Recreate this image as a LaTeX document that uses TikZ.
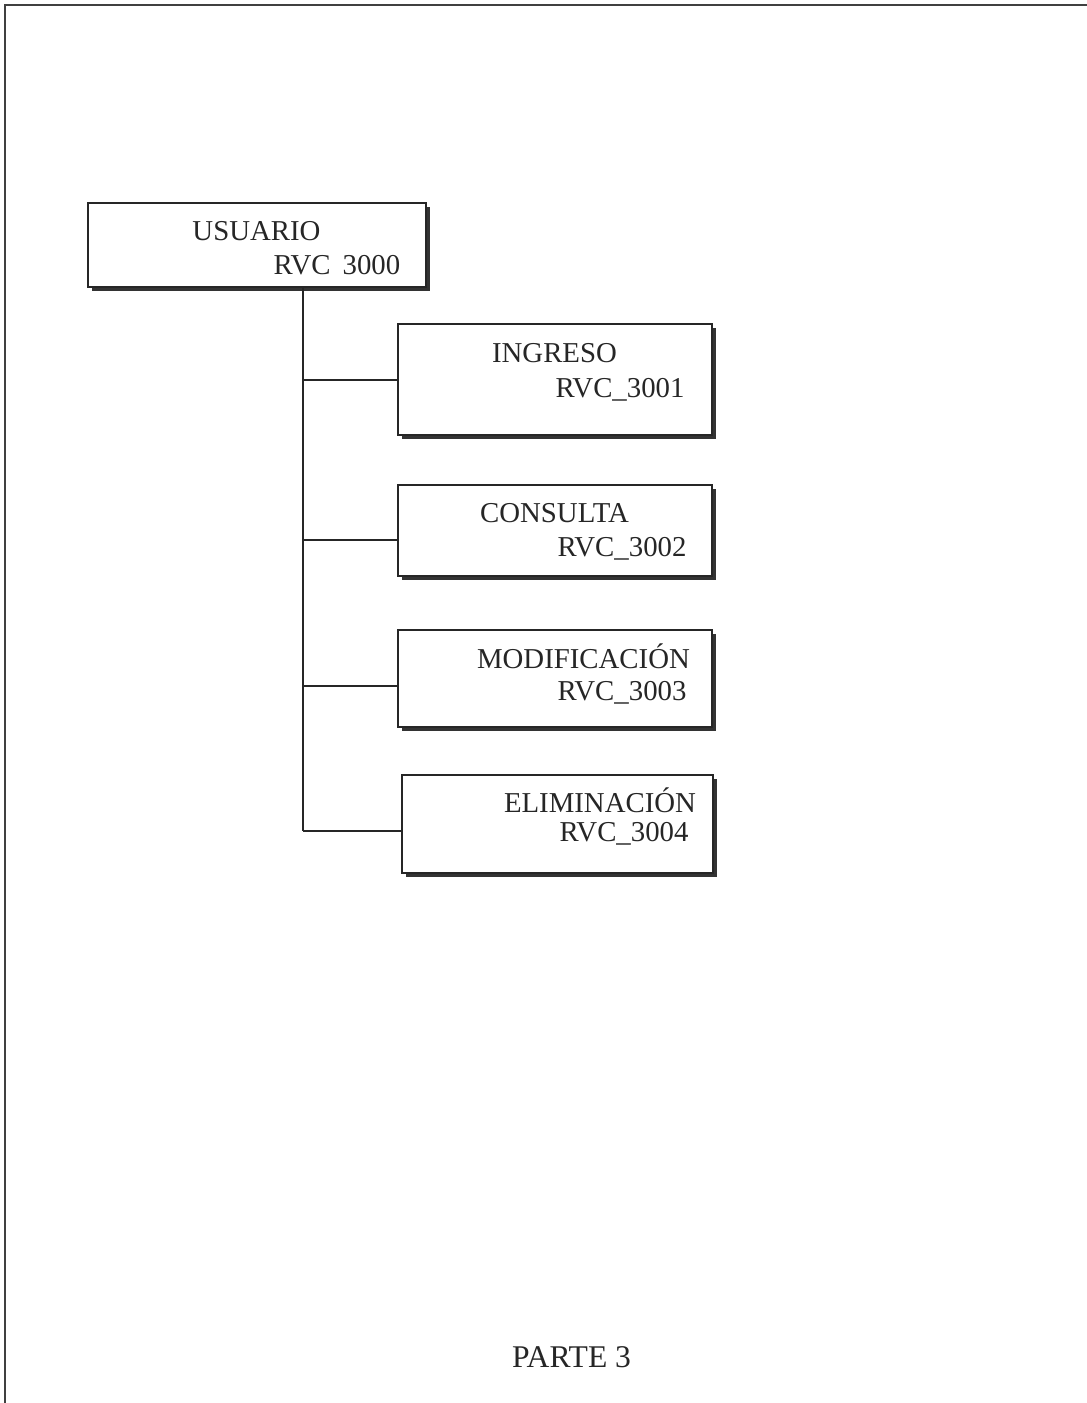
\documentclass[tikz,border=0pt]{standalone}
\usepackage{fontspec}
\setmainfont{Liberation Serif}
\usetikzlibrary{shadows}
\begin{document}
\begin{tikzpicture}[x=0.5pt,y=-0.5pt,
  box/.style={draw=black!85, line width=1pt, fill=white, inner sep=0pt,
    drop shadow={shadow xshift=2pt, shadow yshift=-2pt, fill=black!80, opacity=1}},
  lbl/.style={anchor=base, inner sep=0pt, font=\fontsize{14.4}{17}\selectfont, text=black!85},
  conn/.style={draw=black!85, line width=0.9pt}]
\useasboundingbox (0,0) rectangle (1087,1403);
% page frame (top and left edges)
\draw[line width=1.4pt, black!75] (5,1403) -- (5,5) -- (1087,5);
% boxes
\node[box, minimum width=169pt, minimum height=42pt] (u) at (257,245) {};
\node[box, minimum width=157pt, minimum height=55.5pt] (i) at (555,379.5) {};
\node[box, minimum width=157pt, minimum height=45.5pt] (c) at (555,530.5) {};
\node[box, minimum width=157pt, minimum height=48.5pt] (m) at (555,678.5) {};
\node[box, minimum width=155.5pt, minimum height=49pt] (e) at (557.5,824) {};
% labels
\node[lbl] (u1) at (256.5,240) {USUARIO};
\node[lbl] (u2) at (337,274) {RVC\,\ 3000};
\node[lbl] (i1) at (554.5,362) {INGRESO};
\node[lbl] (i2) at (620,397) {RVC\_3001};
\node[lbl] (c1) at (554.5,522) {CONSULTA};
\node[lbl] (c2) at (622,556) {RVC\_3002};
\node[lbl] (m1) at (583.5,668) {MODIFICACIÓN};
\node[lbl] (m2) at (622,700) {RVC\_3003};
\node[lbl] (e1) at (600,812) {ELIMINACIÓN};
\node[lbl] (e2) at (624,841) {RVC\_3004};
\node[lbl, font=\fontsize{15.8}{18}\selectfont] (p) at (571.5,1367) {PARTE 3};
% connectors
\coordinate (t1) at (303,380);
\coordinate (t2) at (303,540);
\coordinate (t3) at (303,686);
\coordinate (t4) at (303,831);
\draw[conn] (u.south -| t1) -- (t4);
\draw[conn] (t1) -- (t1 -| i.west);
\draw[conn] (t2) -- (t2 -| c.west);
\draw[conn] (t3) -- (t3 -| m.west);
\draw[conn] (t4) -- (t4 -| e.west);
\end{tikzpicture}
\end{document}
